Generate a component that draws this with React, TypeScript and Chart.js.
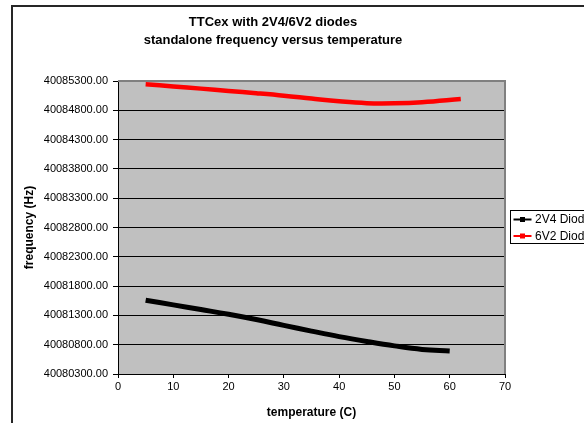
import { useEffect, useRef } from "react";
import { Chart, registerables } from "chart.js";

Chart.register(...registerables);

const TITLE_LINES = ["TTCex with 2V4/6V2 diodes", "standalone frequency versus temperature"];
const X_TITLE = "temperature (C)";
const Y_TITLE = "frequency (Hz)";
const SERIES_NAMES = ["2V4 Diodes", "6V2 Diodes"];

const TEMPS_2V4 = [5, 10, 15, 20, 25, 30, 35, 40, 45, 50, 55, 60];
const FREQ_2V4 = [
  40081560, 40081479, 40081400, 40081320, 40081230, 40081130,
  40081032, 40080938, 40080855, 40080780, 40080720, 40080693,
];
const TEMPS_6V2 = [5, 10, 15, 20, 25, 30, 35, 40, 45, 50, 55, 62];
const FREQ_6V2 = [
  40085246, 40085208, 40085170, 40085130, 40085092, 40085050,
  40085000, 40084953, 40084922, 40084920, 40084938, 40084993,
];

const X_MIN = 0;
const X_MAX = 70;
const X_STEP = 10;
const Y_MIN = 40080300;
const Y_MAX = 40085300;
const Y_STEP = 500;

const FONT = "'Liberation Sans', Arial, Helvetica, sans-serif";
const COLORS = ["#000000", "#FF0000"];

const W = 584;
const H = 423;

export default function App() {
  const ref = useRef<HTMLCanvasElement | null>(null);

  useEffect(() => {
    const canvas = ref.current;
    if (!canvas) return;

    const decor = {
      id: "excelDecor",
      beforeDraw(chart: any) {
        const { ctx, chartArea: a } = chart;
        ctx.save();
        ctx.fillStyle = "#FFFFFF";
        ctx.fillRect(0, 0, chart.width, chart.height);
        ctx.fillStyle = "#C0C0C0";
        ctx.fillRect(a.left, a.top, a.right - a.left, a.bottom - a.top);
        ctx.restore();
      },
      beforeDatasetsDraw(chart: any) {
        const { ctx, chartArea: a } = chart;
        ctx.save();
        ctx.strokeStyle = "#808080";
        ctx.lineWidth = 2;
        ctx.beginPath();
        ctx.moveTo(a.left, a.top);
        ctx.lineTo(a.right, a.top);
        ctx.lineTo(a.right, a.bottom);
        ctx.stroke();
        ctx.restore();
      },
      afterDraw(chart: any) {
        const { ctx } = chart;
        ctx.save();
        // outer chart border
        ctx.strokeStyle = "#262626";
        ctx.lineWidth = 2;
        ctx.strokeRect(12, 6, 700, 600);

        // title
        ctx.fillStyle = "#000000";
        ctx.font = `bold 13px ${FONT}`;
        ctx.textAlign = "center";
        ctx.textBaseline = "middle";
        TITLE_LINES.forEach((t, i) => ctx.fillText(t, 273, 22 + i * 18));

        // legend
        const lx = 510.5;
        const ly = 210.5;
        ctx.strokeStyle = "#000000";
        ctx.lineWidth = 1;
        ctx.fillStyle = "#FFFFFF";
        ctx.fillRect(lx, ly, 120, 33);
        ctx.strokeRect(lx, ly, 120, 33);
        ctx.font = `12px ${FONT}`;
        ctx.textAlign = "left";
        chart.data.datasets.forEach((ds: any, i: number) => {
          const cy = ly + 9 + i * 16.5;
          ctx.strokeStyle = ds.borderColor;
          ctx.lineWidth = 2;
          ctx.beginPath();
          ctx.moveTo(lx + 3, cy);
          ctx.lineTo(lx + 21, cy);
          ctx.stroke();
          ctx.fillStyle = ds.borderColor;
          ctx.fillRect(lx + 9.5, cy - 2.5, 5, 5);
          ctx.fillStyle = "#000000";
          ctx.fillText(ds.label, lx + 24.5, cy + 0.5);
        });
        ctx.restore();
      },
    };

    const chart = new Chart(canvas, {
      type: "line",
      data: {
        datasets: [
          {
            label: SERIES_NAMES[0],
            data: TEMPS_2V4.map((x, i) => ({ x, y: FREQ_2V4[i] })),
            borderColor: COLORS[0],
            backgroundColor: COLORS[0],
            borderWidth: 5,
            pointRadius: 0,
            tension: 0.4,
            fill: false,
          },
          {
            label: SERIES_NAMES[1],
            data: TEMPS_6V2.map((x, i) => ({ x, y: FREQ_6V2[i] })),
            borderColor: COLORS[1],
            backgroundColor: COLORS[1],
            borderWidth: 4.5,
            pointRadius: 0,
            tension: 0.4,
            fill: false,
          },
        ],
      },
      options: {
        responsive: false,
        animation: false,
        devicePixelRatio: 1,
        layout: { padding: { top: 81, right: 79, bottom: 0, left: 0 } },
        plugins: {
          legend: { display: false },
          title: { display: false },
          tooltip: { enabled: false },
        },
        scales: {
          x: {
            type: "linear",
            min: X_MIN,
            max: X_MAX,
            ticks: {
              stepSize: X_STEP,
              color: "#000000",
              font: { family: FONT, size: 11 },
              padding: 2,
              maxRotation: 0,
              autoSkip: false,
            },
            grid: { drawOnChartArea: false, drawTicks: true, tickLength: 4, color: "#000000" },
            border: { color: "#000000", width: 1 },
            title: {
              display: true,
              text: X_TITLE,
              color: "#000000",
              font: { family: FONT, size: 12, weight: "bold" },
              padding: { top: 0, bottom: 3 },
            },
            afterFit: (s: any) => {
              s.height = 49;
            },
          },
          y: {
            type: "linear",
            min: Y_MIN,
            max: Y_MAX,
            ticks: {
              stepSize: Y_STEP,
              color: "#000000",
              font: { family: FONT, size: 11 },
              padding: 5,
              autoSkip: false,
              callback: (v: any) => Number(v).toFixed(2),
            },
            grid: { drawTicks: true, tickLength: 5, color: "#000000", lineWidth: 1 },
            border: { color: "#000000", width: 1 },
            title: {
              display: true,
              text: Y_TITLE,
              color: "#000000",
              font: { family: FONT, size: 12, weight: "bold" },
              padding: { top: 22, bottom: 0 },
            },
            afterFit: (s: any) => {
              s.width = 118;
            },
          },
        },
      } as any,
      plugins: [decor],
    });

    return () => chart.destroy();
  }, []);

  return (
    <div style={{ position: "absolute", left: 0, top: 0, width: W, height: H }}>
      <canvas ref={ref} width={W} height={H} style={{ display: "block", width: W, height: H }} />
    </div>
  );
}
